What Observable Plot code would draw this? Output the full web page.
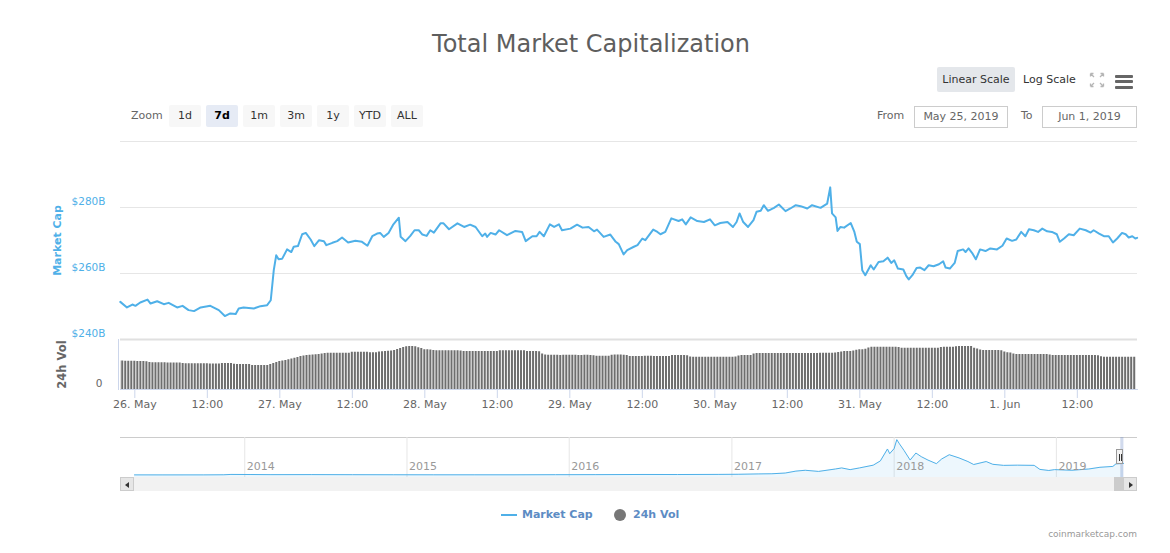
<!DOCTYPE html>
<html>
<head>
<meta charset="utf-8">
<script src="https://cdn.jsdelivr.net/npm/d3@7"></script>
<script src="https://cdn.jsdelivr.net/npm/@observablehq/plot@0.6"></script>
<style>
  html, body { margin:0; padding:0; background:#fff; }
  body { font-family:"DejaVu Sans", sans-serif; }
  #root { position:relative; width:1170px; height:553px; overflow:hidden; }
  .abs { position:absolute; white-space:nowrap; }
  .btn { position:absolute; top:105px; width:32px; height:22px; line-height:22px; text-align:center;
         background:#f7f7f7; color:#333; font-size:11px; border-radius:2px; }
  .btn.sel { background:#e6ebf5; color:#000; font-weight:bold; }
  .box { position:absolute; top:106px; height:20px; line-height:20px; border:1px solid #ccc;
         text-align:center; color:#666; font-size:11px; }
  .lbl { position:absolute; font-size:11px; color:#666; line-height:14px; }
  .hb { position:absolute; left:1115px; width:18px; height:3px; background:#666; border-radius:1px; }
</style>
</head>
<body>
<div id="root"></div>
<script>
// ---------------- DATA ----------------
// Market cap line (hours after 2019-05-26 00:00 UTC, value in $B)
const capHours = [-2.4,-1.3,-0.4,0.1,0.9,2.1,2.6,3.7,4.8,5.6,7.0,7.9,8.9,9.8,10.9,12.5,13.9,14.9,15.8,16.7,17.2,18.0,19.7,20.8,21.9,22.5,23.0,23.4,23.8,24.4,25.2,25.9,26.3,27.0,27.7,28.3,29.1,29.7,30.5,31.3,31.7,32.7,33.5,34.3,35.3,36.5,37.6,38.5,39.3,40.1,40.6,41.2,42.0,42.8,43.7,44.0,44.8,45.6,46.3,47.0,47.6,48.3,48.9,49.5,50.6,51.1,52.0,53.4,54.5,55.5,56.4,57.5,58.0,58.3,58.9,59.7,60.3,61.6,63.0,64.1,64.7,65.8,66.5,67.0,67.7,68.7,69.4,70.2,70.7,72.1,73.2,74.1,75.1,76.0,76.5,77.6,78.7,79.6,80.1,80.9,81.5,82.6,83.2,84.0,84.5,85.8,86.5,87.0,87.8,88.8,90.0,90.6,91.2,92.0,93.1,94.2,95.2,96.0,96.9,98.1,99.0,99.6,100.1,100.7,101.5,102.4,102.9,103.6,104.1,104.8,105.8,106.6,107.7,108.5,109.4,110.2,111.3,112.1,113.5,114.6,115.1,115.4,116.0,116.3,116.8,117.4,118.5,119.1,119.5,120.0,120.4,120.9,121.8,122.3,123.1,123.9,124.6,125.2,125.7,126.3,127.2,127.7,128.1,128.7,129.4,130.0,130.7,131.4,132.2,133.1,133.8,134.2,134.9,135.7,136.2,137.1,137.5,138.0,138.6,139.2,139.9,140.8,141.6,142.7,143.6,144.3,145.2,145.9,146.7,147.4,148.0,148.8,149.5,150.2,151.0,151.8,152.6,153.1,153.8,154.6,155.4,156.4,157.4,158.2,158.7,159.6,160.4,161.2,161.9,162.6,163.4,164.0,164.5,165.1,165.6,165.9];
const capValues = [251.4,249.7,250.6,250.2,251.2,252.1,250.9,251.6,250.7,251.1,249.7,250.2,248.9,248.6,249.7,250.2,248.9,247.1,247.9,247.7,249.4,249.7,249.4,250.1,250.4,251.9,261.0,265.5,264.3,264.5,267.3,266.5,268.1,268.3,271.9,272.3,270.3,268.3,270.1,269.8,268.6,269.3,269.8,270.9,269.4,269.9,269.6,268.4,271.3,272.1,272.3,271.1,272.3,274.9,276.9,271.1,269.8,271.4,273.1,273.1,271.8,271.4,273.1,272.4,275.2,275.2,273.4,275.2,274.1,274.8,274.1,271.3,272.1,271.1,272.3,271.8,273.1,271.6,272.9,272.6,269.8,271.3,271.3,272.6,271.3,274.9,274.1,274.9,273.1,273.6,274.8,273.9,274.1,272.8,273.3,271.1,271.8,269.6,268.9,265.8,267.1,268.1,268.6,270.6,270.1,273.3,272.6,271.9,272.6,276.7,275.9,276.4,274.9,277.0,275.9,275.6,276.4,274.6,275.3,275.6,274.1,275.6,278.2,275.6,274.1,276.2,278.7,279.0,280.7,279.0,279.9,280.9,278.9,279.7,280.7,280.4,279.7,280.7,279.9,281.2,286.1,278.2,277.0,272.9,274.1,273.9,275.3,272.6,269.6,268.9,261.0,259.5,262.5,261.2,263.5,263.7,264.8,263.2,264.0,261.5,261.2,259.2,258.2,259.5,261.7,261.8,261.0,262.5,262.2,262.8,263.7,261.8,261.5,263.2,266.8,267.3,266.5,267.6,266.2,264.3,267.3,266.8,267.6,267.3,268.4,270.6,269.9,270.3,272.6,271.3,273.4,273.1,272.6,273.6,272.8,272.6,271.9,269.6,270.6,271.9,271.6,273.6,273.1,272.4,273.1,272.1,271.3,271.3,269.4,270.6,272.3,271.9,270.9,271.3,270.6,270.8];

// 24h volume bars, one every 30 minutes starting at -2.5 h (value in $B)
const volStartHour = -2.5;
const volValues = [
  57,57,56.5,56.5,56.5,56.5,56,56,56,55.5,
  54,53.5,53.5,53.5,53.5,53.5,53,53,53,53,53,
  52,51.5,51.5,51.5,51.5,51.5,51.5,51.5,51.5,51,51,51,51,
  52,52,52,52,
  50.5,50,50,50,50,50,
  48,48,48,48,48,48,
  50,52,54,
  56,57,58,59.5,
  61,62.5,64,
  66,67,68,68.5,69,69.5,70,
  71,72,72.5,72.5,72.5,72.5,72.5,72.5,72.5,72.5,
  74.5,74.5,74.5,74.5,74.5,74.5,
  73.5,73.5,73.5,
  75,75.5,76,76.5,77,78,
  80,82,
  84,85.5,86,86,85.5,
  83.5,82,
  79.5,79.5,79,
  78,77.5,77.5,77.5,77.5,77.5,77.5,77.5,77.5,77,
  76,76,76,76,76,76,76,76,76,76,76,76,
  77.5,77.5,77.5,77.5,77.5,77.5,77.5,77.5,77.5,
  76,76,76,76,75.5,
  71,69,
  68.5,68.5,68.5,68.5,68,68.5,68.5,68.5,68.5,68.5,68,68,68.5,68.5,68,67.5,
  66.5,66.5,66.5,66.5,66.5,
  68.5,69,69,69,68.5,68,
  66,66,66,66,66,66.5,66.5,66.5,66,66,66,66,66,66,
  68,68,68,68,68,67.5,
  65,64.5,64.5,64.5,64.5,64.5,64.5,64.5,64.5,64.5,64.5,64.5,64.5,64.5,64.5,65,
  67,68,68,68,68,
  71,72,72,72,72,72,72,72,72,72,72,72,72,72,72,72,72,72,72,72,72,72,
  72.5,72.5,72.5,72.5,72.5,73,
  74,75,76,76,76,77,
  78.5,79.5,79.5,80.5,
  83,84.5,84.5,84.5,84.5,84.5,84.5,84.5,84.5,84.5,84,
  82.5,82.5,82.5,82.5,82.5,82.5,82.5,82.5,82.5,82.5,82.5,82.5,82.5,
  84,84.5,84.5,84.5,84.5,
  85.5,86,86,86,86,86,
  82.5,81,
  79,78,78,78,78,78,78,77.5,
  75,73.5,73,
  71,70,70,70,70,70,70,70,70,70,70,70,
  69,68,68,68,68,68,68,68,68,68,68,68,68,68,68,68,67.5,
  65.5,64.5,64.5,64.5,64.5,64.5,64.5,64.5,64.5,64.5,64.5,64.5
];

// Navigator (whole history of total market cap, $B)
const navDates = ["2013-04-28","2013-07-01","2013-10-01","2013-11-15","2013-12-01","2014-01-15","2014-03-01","2014-06-01","2014-09-01","2014-12-01","2015-03-01","2015-06-01","2015-09-01","2015-12-01","2016-03-01","2016-06-15","2016-09-01","2016-12-01","2017-01-15","2017-03-01","2017-04-01","2017-05-01","2017-05-25","2017-06-15","2017-07-15","2017-08-22","2017-09-05","2017-09-24","2017-10-15","2017-11-15","2017-12-01","2017-12-17","2017-12-22","2018-01-01","2018-01-07","2018-01-13","2018-01-23","2018-02-06","2018-02-19","2018-03-03","2018-03-18","2018-04-06","2018-04-18","2018-05-05","2018-05-27","2018-06-16","2018-06-29","2018-07-27","2018-08-11","2018-09-04","2018-10-05","2018-11-12","2018-11-25","2018-12-15","2018-12-28","2019-02-05","2019-03-15","2019-04-09","2019-05-08","2019-05-15","2019-06-01"];
const navValues = [1.5,1.0,1.6,4,12,10,7,8,6,4.5,3.5,3.5,3.5,6,7.5,11,10,13,16,24,28,45,90,110,83,140,165,125,165,230,330,610,500,620,830,730,580,350,515,430,350,265,375,475,400,315,245,315,250,225,230,225,130,105,125,110,140,180,200,260,270];
const navYears = ["2014","2015","2016","2017","2018","2019"];

// Tick / label texts
const capTicks = [240, 260, 280];
const rangeButtons = ["1d","7d","1m","3m","1y","YTD","ALL"];
const selectedButton = "7d";
const fromLabel = "May 25, 2019";
const toLabel = "Jun 1, 2019";

// ---------------- BUILD ----------------
const LINE = "#4fb0e8";
const FONT = "DejaVu Sans";
const root = document.getElementById("root");
const base = Date.UTC(2019, 4, 26);
const HOUR = 3600e3;
const toDate = h => new Date(base + h * HOUR);
const capData = capHours.map((h, i) => ({date: toDate(h), cap: capValues[i]}));
const volData = volValues.map((v, i) => ({date: toDate(volStartHour + i * 0.5), vol: v}));
const navData = navDates.map((d, i) => ({date: new Date(d + "T00:00:00Z"), cap: navValues[i]}));
const xDomain = [toDate(-2.37), toDate(165.96)];
const plotStyle = {fontFamily: FONT, fontSize: "11px", background: "transparent", overflow: "visible"};

function place(el, top, left = 0) {
  el.style.position = "absolute";
  el.style.top = top + "px";
  el.style.left = left + "px";
  root.appendChild(el);
}
function addDiv(html, css, cls) {
  const d = document.createElement("div");
  d.className = cls || "abs";
  d.innerHTML = html;
  d.style.cssText += css;
  root.appendChild(d);
  return d;
}

// Main price panel
const main = Plot.plot({
  width: 1170, height: 218,
  marginTop: 10, marginBottom: 10, marginLeft: 120, marginRight: 33,
  style: plotStyle,
  x: {domain: xDomain, axis: null, label: null},
  y: {domain: [240, 300], axis: null, label: null},
  marks: [
    Plot.ruleY([260, 280, 300], {stroke: "#e6e6e6"}),
    Plot.axisY(capTicks, {tickSize: 0, tickPadding: 15, dy: -6, fontSize: 10.5, label: null,
      tickFormat: d => `$${d}B`, fill: LINE}),
    Plot.text(["Market Cap"], {text: d => d, frameAnchor: "left", textAnchor: "middle", rotate: -90, dx: -63,
      fill: LINE, fontWeight: "bold", fontSize: 11}),
    Plot.lineY(capData, {x: "date", y: "cap", stroke: LINE, strokeWidth: 2})
  ]
});
place(main, 131);

// Volume panel
const fmtDay = d3.utcFormat("%-d. %b");
const fmtHour = d3.utcFormat("%H:%M");
const xTicks = d3.utcHour.every(12).range(xDomain[0], xDomain[1]);
const vol = Plot.plot({
  width: 1170, height: 82,
  marginTop: 2, marginBottom: 30, marginLeft: 120, marginRight: 33,
  style: plotStyle,
  x: {domain: xDomain, axis: null, label: null},
  y: {domain: [0, 100], axis: null, label: null},
  marks: [
    Plot.rectY(volData, {
      x1: d => new Date(+d.date - 15 * 60e3), x2: d => new Date(+d.date + 15 * 60e3),
      y: "vol", fill: "#6e6e6e", insetLeft: 0.5, insetRight: 0.5, clip: true}),
    Plot.ruleY([100], {stroke: "#e0e0e0", strokeWidth: 2}),
    Plot.frame({anchor: "bottom", stroke: "#ccd6eb"}),
    Plot.frame({anchor: "left", stroke: "#ccd6eb", dx: -2}),
    Plot.axisX(xTicks, {tickSize: 9, tickPadding: 2, fontSize: 11, stroke: "#ccd6eb", fill: "#666", label: null,
      tickFormat: d => d.getUTCHours() === 0 ? fmtDay(d) : fmtHour(d)}),
    Plot.axisY([0], {tickSize: 0, tickPadding: 18, dy: -6, fontSize: 10.5, fill: "#666", label: null}),
    Plot.text(["24h Vol"], {text: d => d, frameAnchor: "left", textAnchor: "middle", rotate: -90, dx: -58,
      fill: "#666", fontWeight: "bold", fontSize: 11.5})
  ]
});
place(vol, 337);

// Navigator
const navYearDates = navYears.map(y => new Date(y + "-01-01T00:00:00Z"));
const selStart = new Date(Date.UTC(2019, 4, 25, 21));
const selEnd = new Date(Date.UTC(2019, 5, 1, 22));
addDiv("", "left:120px;top:437px;width:1017px;height:0;border-top:1px solid #ccc;");
const nav = Plot.plot({
  width: 1170, height: 40,
  marginTop: 0, marginBottom: 0, marginLeft: 134, marginRight: 47,
  style: plotStyle,
  x: {domain: [navData[0].date, navData[navData.length - 1].date], axis: null, label: null},
  y: {domain: [-60, 880], axis: null, label: null},
  marks: [
    Plot.ruleX(navYearDates, {stroke: "#e6e6e6"}),
    Plot.areaY(navData, {x: "date", y1: -60, y2: "cap", fill: LINE, fillOpacity: 0.1}),
    Plot.lineY(navData, {x: "date", y: "cap", stroke: LINE, strokeWidth: 1}),
    Plot.text(navYearDates, {x: d => d, text: d => String(d.getUTCFullYear()), frameAnchor: "bottom",
      dy: -8, dx: 2, textAnchor: "start", fill: "#999", fontSize: 11}),
    Plot.rect([0], {x1: () => selStart, x2: () => selEnd, fill: "rgba(102,133,194,0.3)"})
  ]
});
place(nav, 437);
// navigator handle
addDiv('<div style="position:absolute;left:2px;top:4px;width:1px;height:7px;background:#333"></div><div style="position:absolute;left:4px;top:4px;width:1px;height:7px;background:#333"></div>',
  "left:1116px;top:449px;width:7px;height:15px;background:#f2f2f2;border:1px solid #999;box-sizing:border-box;");

// scrollbar
addDiv("", "left:120px;top:477px;width:1017px;height:14px;background:#f2f2f2;");
addDiv('<div style="position:absolute;left:4px;top:4px;width:0;height:0;border-top:3px solid transparent;border-bottom:3px solid transparent;border-right:4px solid #333"></div>',
  "left:120px;top:477px;width:14px;height:14px;background:#e6e6e6;border:1px solid #ccc;box-sizing:border-box;");
addDiv('<div style="position:absolute;left:5px;top:4px;width:0;height:0;border-top:3px solid transparent;border-bottom:3px solid transparent;border-left:4px solid #333"></div>',
  "left:1123px;top:477px;width:14px;height:14px;background:#e6e6e6;border:1px solid #ccc;box-sizing:border-box;");
addDiv("", "left:1114px;top:477px;width:9px;height:14px;background:#cccccc;");

// Title
addDiv("Total Market Capitalization",
  "left:591px;top:29px;transform:translateX(-50%);font-size:24px;color:#5e5e5e;line-height:30px;");

// Scale buttons & icons
addDiv("Linear Scale", "left:937px;top:67px;width:78px;height:25px;line-height:25px;text-align:center;background:#e4e7eb;color:#333;font-size:11px;border-radius:2px;");
addDiv("Log Scale", "left:1023px;top:67px;height:25px;line-height:25px;color:#333;font-size:11px;");
addDiv('<svg width="16" height="16" viewBox="0 0 16 16"><g stroke="#b5b5b5" stroke-width="1.3" fill="none">'
  + '<path d="M1.5 1.5 L5 5 M1.5 1.5 h3 M1.5 1.5 v3"/>'
  + '<path d="M14.5 1.5 L11 5 M14.5 1.5 h-3 M14.5 1.5 v3"/>'
  + '<path d="M1.5 14.5 L5 11 M1.5 14.5 h3 M1.5 14.5 v-3"/>'
  + '<path d="M14.5 14.5 L11 11 M14.5 14.5 h-3 M14.5 14.5 v-3"/></g></svg>',
  "left:1089px;top:72px;width:16px;height:16px;");
[74.5, 80, 85.5].forEach(t => addDiv("", `top:${t}px;`, "hb"));

// Range selector
addDiv("Zoom", "left:131px;top:109px;", "lbl");
rangeButtons.forEach((b, i) => {
  addDiv(b, `left:${169 + i * 37}px;`, "btn" + (b === selectedButton ? " sel" : ""));
});
addDiv("From", "left:877px;top:109px;", "lbl");
addDiv(fromLabel, "left:914px;width:92px;", "box");
addDiv("To", "left:1021px;top:109px;", "lbl");
addDiv(toLabel, "left:1042px;width:93px;", "box");

// Legend
addDiv("", `left:501px;top:514px;width:16px;height:2px;background:${LINE};`);
addDiv("Market Cap", "left:522px;top:507px;line-height:16px;font-size:11px;font-weight:bold;color:#5d8cc4;");
addDiv("", "left:614px;top:509px;width:12px;height:12px;border-radius:50%;background:#777;");
addDiv("24h Vol", "left:633px;top:507px;line-height:16px;font-size:11px;font-weight:bold;color:#5d8cc4;");

// Credits
addDiv("coinmarketcap.com", "right:33px;top:528px;line-height:12px;font-size:9px;color:#999;");
</script>
</body>
</html>
